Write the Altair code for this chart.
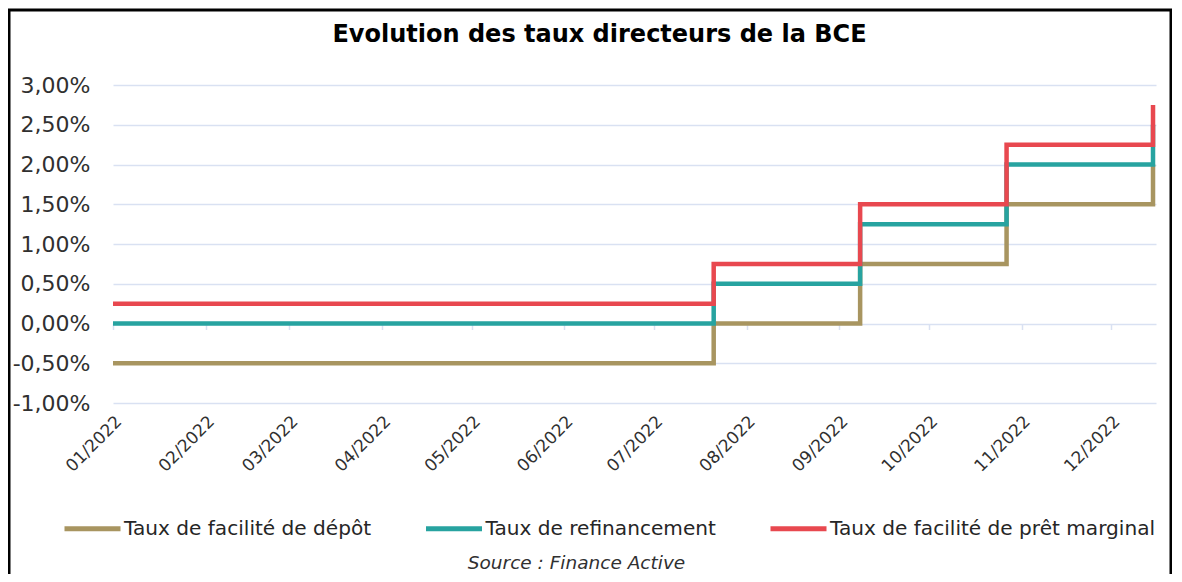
import altair as alt
import pandas as pd

# ---- data ----
dates = ["2022-01-01", "2022-07-21", "2022-09-08", "2022-10-27", "2022-12-15"]
depot = [-0.50, 0.00, 0.75, 1.50, 2.00]
refi = [0.00, 0.50, 1.25, 2.00, 2.50]
marginal = [0.25, 0.75, 1.50, 2.25, 2.75]
series_names = ["Taux de facilité de dépôt", "Taux de refinancement",
                "Taux de facilité de prêt marginal"]
colors = ["#A89560", "#27A3A0", "#E8484F"]
month_numbers = list(range(1, 13))
y_ticks = [-1.0, -0.5, 0.0, 0.5, 1.0, 1.5, 2.0, 2.5, 3.0]
title_text = "Evolution des taux directeurs de la BCE"
source_text = "Source : Finance Active"

rows = []
for name, vals in zip(series_names, [depot, refi, marginal]):
    for d, v in zip(dates, vals):
        rows.append({"date": d, "taux": v, "serie": name})
df = pd.DataFrame(rows)

FONT = "DejaVu Sans"
GRID = "#D9E1F2"

month_vals = [alt.DateTime(year=2022, month=m, date=1, utc=True) for m in month_numbers]
x_scale = alt.Scale(type="utc", domain=[alt.DateTime(year=2022, month=1, date=1, utc=True),
                                        alt.DateTime(year=2022, month=12, date=16, utc=True)])
y_scale = alt.Scale(domain=[-1, 3])

main_x_axis = alt.Axis(orient="bottom", values=month_vals, format="%m/%Y", labelAngle=-45,
                       labelAlign="right", labelBaseline="top", labelFont=FONT, labelFontSize=17,
                       labelColor="#303030", labelPadding=10, ticks=False, domain=False, grid=False,
                       labelOverlap=False,
                       title=source_text, titleFont=FONT, titleFontSize=18.5, titleFontStyle="italic",
                       titleFontWeight="normal", titleColor="#303030", titleX=463, titleY=159,
                       titleAlign="center", titleBaseline="middle")

tick_x_axis = alt.Axis(values=month_vals, orient="bottom", offset=-79.5, labels=False,
                       ticks=True, tickSize=6, tickColor=GRID, tickWidth=1.5,
                       domain=False, grid=False, title=None)

y_axis = alt.Axis(values=y_ticks,
                  labelExpr="replace(replace(format(datum.value, '.2f'), '.', ','), '\u2212', '-') + '%'",
                  labelFont=FONT, labelFontSize=22, labelColor="#303030", labelPadding=23,
                  labelOverlap=False, ticks=False, domain=False, grid=True, gridColor=GRID,
                  gridWidth=1.5, title=None)

color = alt.Color("serie:N", scale=alt.Scale(domain=series_names, range=colors),
                  legend=alt.Legend(orient="none", legendX=-51, legendY=413, direction="horizontal",
                                    title=None, symbolType="stroke", symbolSize=3136,
                                    symbolStrokeWidth=5, labelFont=FONT, labelFontSize=20.1,
                                    labelColor="#262626", columnPadding=43.5, labelOffset=1,
                                    labelLimit=500))

ticks_layer = alt.Chart(df).mark_line(opacity=0).encode(
    x=alt.X("date:T", scale=x_scale, axis=tick_x_axis),
    y=alt.Y("taux:Q", scale=y_scale, axis=y_axis),
    detail="serie:N",
)

lines = alt.Chart(df).mark_line(interpolate="step-after", strokeWidth=4.5).encode(
    x=alt.X("date:T", scale=x_scale, axis=main_x_axis),
    y=alt.Y("taux:Q", scale=y_scale, axis=y_axis),
    color=color,
)

frame = alt.Chart(pd.DataFrame({"k": [0]})).mark_rect(
    fillOpacity=0, stroke="black", strokeWidth=3, clip=False
).encode(x=alt.value(-104), x2=alt.value(1058), y=alt.value(-75), y2=alt.value(560))

chart = alt.layer(lines, ticks_layer, frame).resolve_axis(x="independent").properties(
    width=1043,
    height=318,
    padding={"left": 105, "top": 77, "right": 16, "bottom": 171},
    autosize=alt.AutoSizeParams(type="none"),
    title=alt.Title(title_text, font=FONT, fontSize=24, fontWeight="bold", color="#000000",
                    anchor="middle", dx=-35, offset=-57, baseline="alphabetic"),
).configure_view(stroke=None)

chart.save("out.html", embed_options={"renderer": "svg", "actions": False})
